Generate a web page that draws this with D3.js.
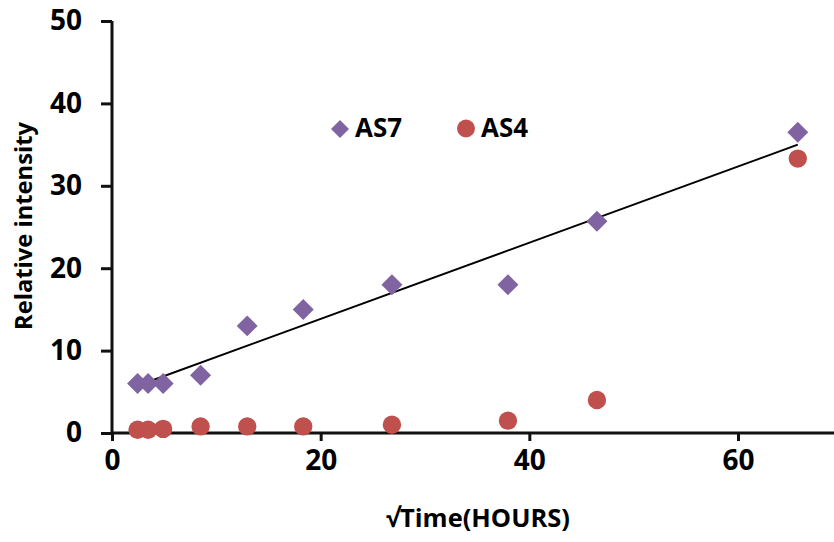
<!DOCTYPE html>
<html><head><meta charset="utf-8">
<script src="https://cdn.jsdelivr.net/npm/d3@7"></script>
<style>body{margin:0;background:#fff}svg{display:block}</style>
</head><body>
<svg id="c" width="834" height="542"></svg>
<script>
const xValues = [2.45, 3.46, 4.90, 8.49, 12.96, 18.33, 26.83, 37.95, 46.48, 65.73];
const as7 = [6, 6, 6, 7, 13, 15, 18, 18, 25.7, 36.5];
const as4 = [0.4, 0.4, 0.5, 0.8, 0.8, 0.8, 1.0, 1.5, 4.0, 33.3];
const xTicks = [0, 20, 40, 60];
const yTicks = [0, 10, 20, 30, 40, 50];
const seriesNames = ["AS7", "AS4"];

const svg = d3.select("#c");
const font = "'Open Sans', Lato, sans-serif";
const x = d3.scaleLinear().domain([0, 60]).range([112, 738]);
const y = d3.scaleLinear().domain([0, 50]).range([433, 21]);

function fit(sel, target) {
  const node = sel.node();
  const w = node.getComputedTextLength();
  const fs = parseFloat(sel.attr("font-size"));
  sel.attr("font-size", fs * target / w);
}

// axes
const xAxis = svg.append("g").attr("transform", "translate(0,433)")
  .call(d3.axisBottom(x).tickValues(xTicks).tickSize(8).tickPadding(9));
xAxis.select(".domain").remove();
xAxis.append("line").attr("x1", 112).attr("x2", 834).attr("y1", 0).attr("y2", 0)
  .attr("stroke", "#111").attr("stroke-width", 3);
const yAxis = svg.append("g").attr("transform", "translate(112,0)")
  .call(d3.axisLeft(y).tickValues(yTicks).tickSize(11).tickPadding(19));
yAxis.select(".domain").remove();
yAxis.append("line").attr("x1", 0).attr("x2", 0).attr("y1", 21).attr("y2", 434.5)
  .attr("stroke", "#111").attr("stroke-width", 3);
svg.selectAll(".tick line").attr("stroke", "#111").attr("stroke-width", 3);
svg.selectAll(".tick text").attr("font-family", font).attr("font-weight", "bold")
  .attr("font-size", 28).attr("fill", "#000");
xAxis.selectAll(".tick line").attr("y1", 0);

// trend line (least squares on AS7)
const n = xValues.length;
const mx = d3.mean(xValues), my = d3.mean(as7);
let sxy = 0, sxx = 0;
for (let i = 0; i < n; i++) { sxy += (xValues[i]-mx)*(as7[i]-my); sxx += (xValues[i]-mx)**2; }
const slope = sxy / sxx, inter = my - slope * mx;
const x0 = d3.min(xValues), x1 = d3.max(xValues);
svg.append("line")
  .attr("x1", x(x0)).attr("y1", y(inter + slope * x0))
  .attr("x2", x(x1)).attr("y2", y(inter + slope * x1))
  .attr("stroke", "#000").attr("stroke-width", 2);

const purple = "#8064A2", red = "#C0504D";
const diamond = d3.symbol().type(d3.symbolSquare).size(220);
// AS4 circles
svg.append("g").selectAll("circle").data(xValues).join("circle")
  .attr("cx", (d) => x(d)).attr("cy", (d, i) => y(as4[i])).attr("r", 9.2).attr("fill", red);
// AS7 diamonds
svg.append("g").selectAll("path").data(xValues).join("path")
  .attr("d", diamond)
  .attr("transform", (d, i) => `translate(${x(d)},${y(as7[i])}) rotate(45)`)
  .attr("fill", purple);

// legend
const lg = svg.append("g");
lg.append("path").attr("d", d3.symbol().type(d3.symbolSquare).size(162))
  .attr("transform", "translate(340,129) rotate(45)").attr("fill", purple);
const t1 = lg.append("text").attr("x", 355).attr("y", 137).attr("font-size", 22).text(seriesNames[0]);
lg.append("circle").attr("cx", 466).attr("cy", 128.5).attr("r", 9).attr("fill", red);
const t2 = lg.append("text").attr("x", 481).attr("y", 137).attr("font-size", 22).text(seriesNames[1]);
lg.selectAll("text").attr("font-family", font).attr("font-weight", "bold");
fit(t1, 47); fit(t2, 47);

// titles
const xt = svg.append("text").attr("x", 478).attr("y", 527).attr("text-anchor", "middle")
  .attr("font-family", font).attr("font-weight", "bold").attr("font-size", 22)
  .text("√Time(HOURS)");
fit(xt, 184);
const yt = svg.append("text").attr("transform", "translate(32,226) rotate(-90)").attr("text-anchor", "middle")
  .attr("font-family", font).attr("font-weight", "bold").attr("font-size", 21)
  .text("Relative intensity");
fit(yt, 208);
</script>
</body></html>
